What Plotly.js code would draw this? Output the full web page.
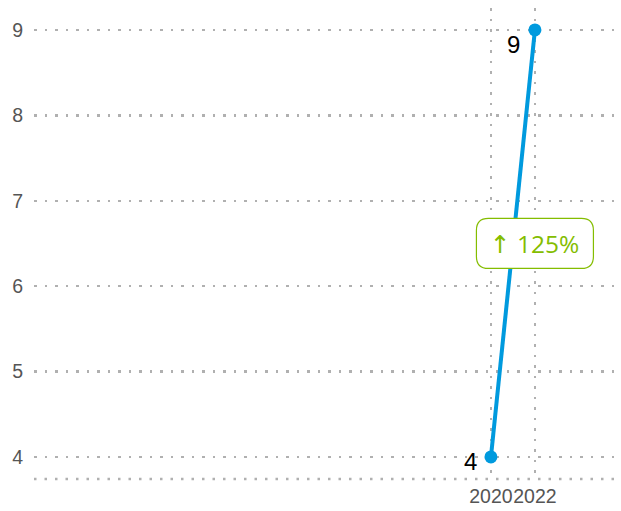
<!DOCTYPE html>
<html><head><meta charset="utf-8">
<script src="https://cdn.plot.ly/plotly-3.0.1.min.js"></script>
<style>html,body{margin:0;padding:0;background:#fff}#chart{width:621px;height:511px}</style>
</head><body><div id="chart"></div>
<script>
const years = [2020, 2022];
const values = [4, 9];
const pointLabels = ['4', '9'];
const changeLabel = '↑ 125%';
const yTicks = [4, 5, 6, 7, 8, 9];

const blue = '#009ade';
const green = '#84bd00';
const grid = '#b0b0b0';

const trace = {
  x: years, y: values, type: 'scatter', mode: 'lines+markers',
  line: {color: blue, width: 4},
  marker: {color: blue, size: 13},
  hoverinfo: 'skip', cliponaxis: false
};

const midY = (values[0] + values[1]) / 2;
const labelShift = [{x: -12, y: -5}, {x: -13, y: -15}];

const pointAnnotations = years.map((yr, i) => ({
  x: yr, y: values[i], xref: 'x', yref: 'y', text: pointLabels[i], showarrow: false,
  xanchor: 'right', yanchor: 'middle', xshift: labelShift[i].x, yshift: labelShift[i].y,
  font: {family: 'Liberation Sans, Arial, sans-serif', size: 24, color: '#000'}
}));

const layout = {
  width: 621, height: 511,
  margin: {l: 34, r: 6, t: 8, b: 32},
  paper_bgcolor: '#fff', plot_bgcolor: '#fff',
  showlegend: false,
  font: {family: 'Liberation Sans, Arial, sans-serif', color: '#555'},
  xaxis: {
    range: [1999.23, 2025.64], tickvals: years, ticktext: years.map(String),
    showgrid: true, gridcolor: grid, gridwidth: 2.5, griddash: '2.5px,8px',
    zeroline: false, showline: false, ticks: '', ticklabelstandoff: 3,
    tickangle: 0, tickfont: {size: 19.5, color: '#555'}
  },
  yaxis: {
    range: [3.742, 9.257], tickvals: yTicks,
    showgrid: true, gridcolor: grid, gridwidth: 2.5, griddash: '2.5px,8px',
    zeroline: false, showline: false, ticks: '', ticklabelstandoff: 10,
    tickfont: {size: 19.5, color: '#555'}
  },
  shapes: [
    {type: 'line', xref: 'paper', yref: 'paper', x0: 0, x1: 1, y0: 0, y1: 0,
     line: {color: grid, width: 2.5, dash: '2.5px,8px'}, layer: 'below'},
    {type: 'path', xref: 'x', yref: 'y', xsizemode: 'pixel', ysizemode: 'pixel',
     xanchor: years[1], yanchor: midY,
     path: 'M -46.5 -25 L 46.5 -25 Q 58.5 -25 58.5 -13 L 58.5 13 Q 58.5 25 46.5 25 L -46.5 25 Q -58.5 25 -58.5 13 L -58.5 -13 Q -58.5 -25 -46.5 -25 Z',
     fillcolor: '#fff', line: {color: green, width: 1.2}, layer: 'above'}
  ],
  annotations: pointAnnotations.concat([
    {x: years[1], y: midY, xref: 'x', yref: 'y', text: changeLabel, showarrow: false,
     font: {family: 'Open Sans, DejaVu Sans, sans-serif', size: 24.5, color: green},
     xanchor: 'center', yanchor: 'middle'}
  ])
};

Plotly.newPlot('chart', [trace], layout, {displayModeBar: false, staticPlot: true});
</script></body></html>
